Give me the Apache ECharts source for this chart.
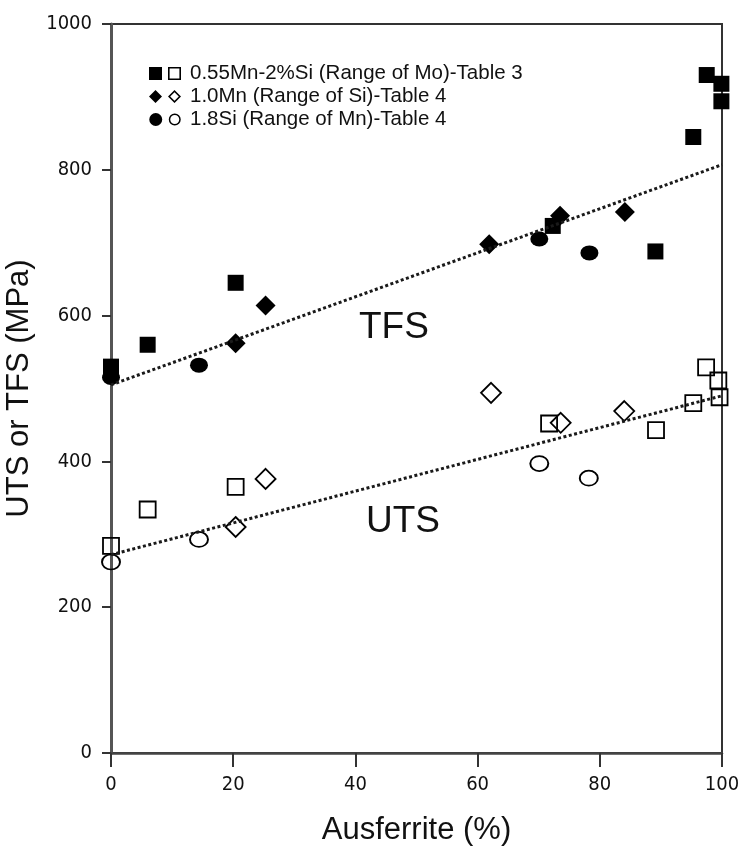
<!DOCTYPE html>
<html>
<head>
<meta charset="utf-8">
<script src="https://cdn.jsdelivr.net/npm/echarts@6/dist/echarts.min.js"></script>
<style>
  html, body { margin: 0; padding: 0; background: #fff; }
  #chart { width: 738px; height: 848px; }
</style>
</head>
<body>
<div id="chart"></div>
<script>
// legend labels
const groupNames = [
    '0.55Mn-2%Si (Range of Mo)-Table 3',
    '1.0Mn (Range of Si)-Table 4',
    '1.8Si (Range of Mn)-Table 4'
];

// TFS (filled symbols)
const tfsMoX = [0, 6, 20.4, 72.3, 89.1, 95.3, 97.5, 99.9, 99.9];
const tfsMoY = [530, 560, 645, 723, 688, 845, 930, 918, 894];
const tfsSiX = [20.4, 25.3, 61.9, 73.5, 84.1];
const tfsSiY = [562, 614, 698, 737, 742];
const tfsMnX = [0, 14.4, 70.1, 78.3];
const tfsMnY = [515, 532, 705, 686];

// UTS (open symbols)
const utsMoX = [0, 6, 20.4, 71.7, 89.2, 95.3, 97.4, 99.4, 99.6];
const utsMoY = [284, 334, 365, 452, 443, 480, 529, 511, 488];
const utsSiX = [20.4, 25.3, 62.2, 73.6, 84.0];
const utsSiY = [310, 376, 494, 453, 469];
const utsMnX = [0, 14.4, 70.1, 78.2];
const utsMnY = [262, 293, 397, 377];

// trend lines (end points)
const tfsFitX = [0, 100];
const tfsFitY = [505, 807];
const utsFitX = [0, 100];
const utsFitY = [272, 490];

const xTicks = [0, 20, 40, 60, 80, 100];
const yTicks = [0, 200, 400, 600, 800, 1000];

function zip(xs, ys) {
    return xs.map((x, i) => [x, ys[i]]);
}

const tickFont = "'DejaVu Sans Condensed', 'Liberation Sans Narrow', sans-serif";
const textFont = "'Liberation Sans', Arial, sans-serif";

// legend icons: filled + hollow symbol side by side
const icons = [
    'path://M0,0H13V13H0Z M19,0H32V13H19Z M20.6,1.6V11.4H30.4V1.6Z',
    'path://M0,6.5L6.5,0L13,6.5L6.5,13Z M19,6.5L25.5,0L32,6.5L25.5,13Z M21.2,6.5L25.5,10.8L29.8,6.5L25.5,2.2Z',
    'path://M0,6.5A6.5,6.5 0 1,1 13,6.5A6.5,6.5 0 1,1 0,6.5Z M19.5,6.5A6,6 0 1,1 31.5,6.5A6,6 0 1,1 19.5,6.5Z M21,6.5A4.5,4.5 0 1,0 30,6.5A4.5,4.5 0 1,0 21,6.5Z'
];

function scatter(name, data, symbol, size, filled) {
    return {
        name: name,
        type: 'scatter',
        data: data,
        symbol: symbol,
        symbolSize: size,
        z: 3,
        itemStyle: filled
            ? { color: '#000', borderWidth: 0, opacity: 1 }
            : { color: 'rgba(255,255,255,0)', borderColor: '#000', borderWidth: 1.8, opacity: 1 },
        emphasis: { disabled: true }
    };
}

function fitLine(data) {
    return {
        type: 'line',
        data: data,
        symbol: 'none',
        z: 4,
        lineStyle: { color: '#1a1a1a', width: 3, type: [3, 2.5] },
        emphasis: { disabled: true },
        silent: true
    };
}

const chart = echarts.init(document.getElementById('chart'), null, { renderer: 'canvas' });

chart.setOption({
    animation: false,
    backgroundColor: '#fff',
    grid: {
        show: true,
        left: 111,
        right: 16,
        top: 24,
        bottom: 95,
        outerBoundsMode: 'none',
        containLabel: false,
        borderColor: '#333',
        borderWidth: 2
    },
    legend: {
        orient: 'vertical',
        left: 144,
        top: 58,
        itemWidth: 32,
        itemHeight: 13,
        itemGap: 2,
        selectedMode: false,
        data: groupNames.map((n, i) => ({ name: n, icon: icons[i] })),
        textStyle: { fontFamily: textFont, fontSize: 20.5, color: '#111', lineHeight: 21, padding: [0, 0, 0, 4] }
    },
    xAxis: {
        type: 'value',
        min: 0,
        max: 100,
        interval: 20,
        name: 'Ausferrite (%)',
        nameLocation: 'middle',
        nameGap: 62,
        nameTextStyle: { fontFamily: textFont, fontSize: 31, color: '#111' },
        axisLine: { onZero: false, lineStyle: { color: '#444', width: 2.5 } },
        axisTick: { length: 14, lineStyle: { color: '#333', width: 2 } },
        axisLabel: {
            margin: 22,
            fontFamily: tickFont,
            fontSize: 20,
            color: '#111',
            formatter: v => xTicks.includes(v) ? String(v) : ''
        },
        splitLine: { show: false }
    },
    yAxis: {
        type: 'value',
        min: 0,
        max: 1000,
        interval: 200,
        name: 'UTS or TFS (MPa)',
        nameLocation: 'middle',
        nameRotate: 90,
        nameGap: 70,
        nameTextStyle: { fontFamily: textFont, fontSize: 31, color: '#111' },
        axisLine: { onZero: false, lineStyle: { color: '#555', width: 3 } },
        axisTick: { length: 9, lineStyle: { color: '#333', width: 2 } },
        axisLabel: {
            margin: 19,
            fontFamily: tickFont,
            fontSize: 20,
            color: '#111',
            formatter: v => yTicks.includes(v) ? String(v) : ''
        },
        splitLine: { show: false }
    },
    graphic: [
        {
            type: 'text',
            left: 359,
            top: 309,
            style: { text: 'TFS', font: '37px ' + textFont, fill: '#111' }
        },
        {
            type: 'text',
            left: 366,
            top: 503,
            style: { text: 'UTS', font: '37px ' + textFont, fill: '#111' }
        }
    ],
    series: [
        scatter(groupNames[0], zip(tfsMoX, tfsMoY), 'rect', 16, true),
        scatter(groupNames[1], zip(tfsSiX, tfsSiY), 'diamond', 20, true),
        scatter(groupNames[2], zip(tfsMnX, tfsMnY), 'circle', [18, 15], true),
        scatter(groupNames[0], zip(utsMoX, utsMoY), 'rect', 16, false),
        scatter(groupNames[1], zip(utsSiX, utsSiY), 'diamond', 20, false),
        scatter(groupNames[2], zip(utsMnX, utsMnY), 'circle', [18, 15], false),
        fitLine(zip(tfsFitX, tfsFitY)),
        fitLine(zip(utsFitX, utsFitY))
    ]
});
</script>
</body>
</html>
